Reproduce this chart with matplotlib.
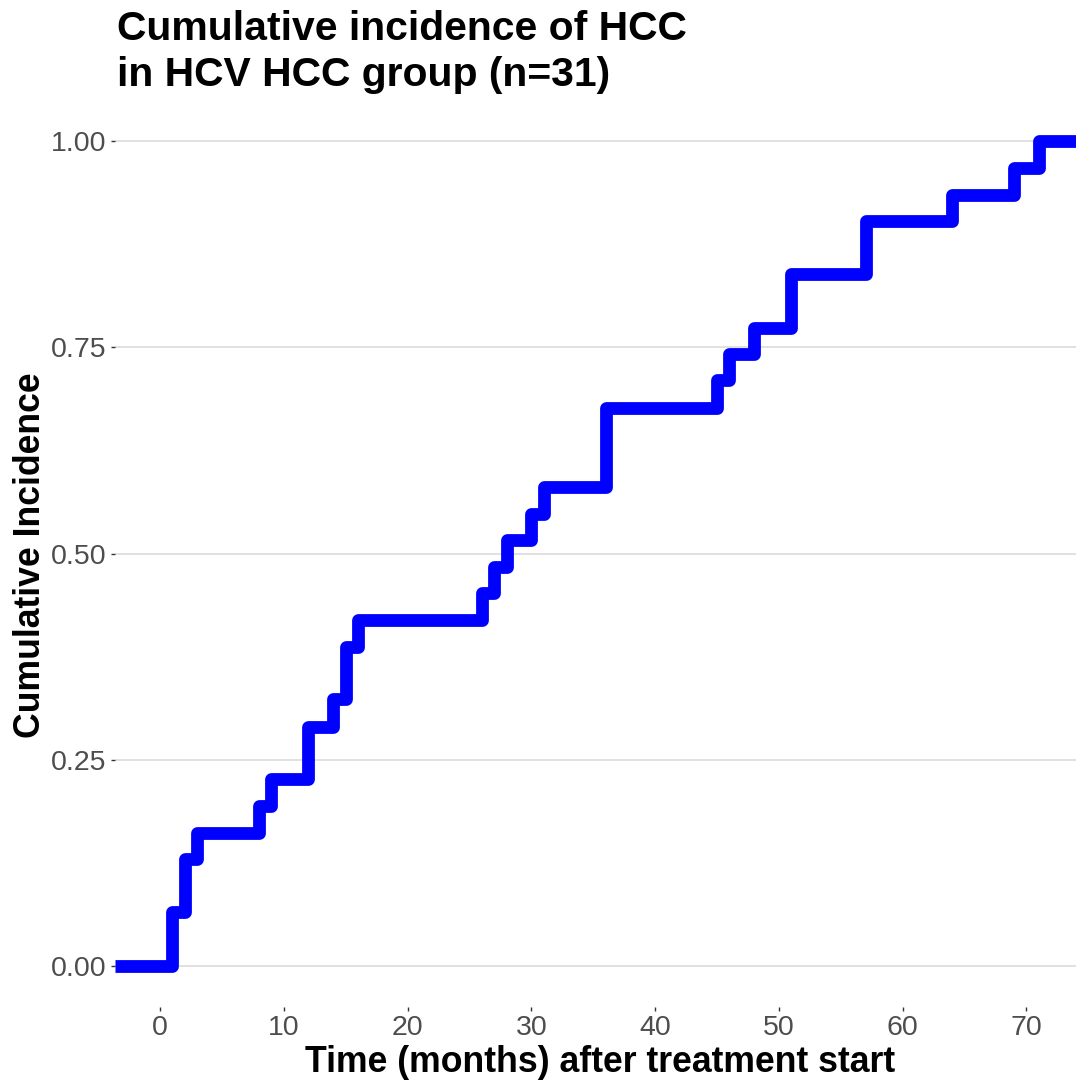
import matplotlib
matplotlib.use('Agg')
import matplotlib.pyplot as plt

# step points (months, cumulative incidence)
time = [-3.6, 1, 2, 3, 8, 9, 12, 14, 15, 16, 26, 27, 28, 30, 31, 36,
        45, 46, 48, 51, 57, 64, 69, 71, 74]
incidence = [0.000, 0.065, 0.129, 0.161, 0.194, 0.226, 0.290, 0.323,
             0.387, 0.419, 0.452, 0.484, 0.516, 0.548, 0.581, 0.677,
             0.710, 0.742, 0.774, 0.839, 0.903, 0.935, 0.968, 1.000, 1.000]

x_ticks = [0, 10, 20, 30, 40, 50, 60, 70]
y_ticks = [0.00, 0.25, 0.50, 0.75, 1.00]
y_labels = ['0.00', '0.25', '0.50', '0.75', '1.00']

title_lines = ['Cumulative incidence of HCC', 'in HCV HCC group (n=31)']

plt.rcParams['font.family'] = ['Liberation Sans', 'DejaVu Sans']

W, H = 1076, 1084
fig = plt.figure(figsize=(W / 100, H / 100), dpi=100)
ax = fig.add_axes([115 / W, 1 - 1007 / H, (1076 - 115) / W, (1007 - 100) / H])

ax.step(time, incidence, where='post', color='#0000FF', lw=9.2,
        solid_joinstyle='round', solid_capstyle='butt', zorder=3)

ax.set_xlim(-3.63, 74.0)
ax.set_ylim(-0.05, 1.05)
ax.set_xticks(x_ticks)
ax.set_yticks(y_ticks)
ax.set_yticklabels(y_labels)
ax.yaxis.grid(True, color='#DEDEDE', lw=1.3)
ax.xaxis.grid(False)
ax.set_axisbelow(True)
for s in ax.spines.values():
    s.set_visible(False)
ax.tick_params(axis='both', length=3, width=1, color='#333333',
               labelsize=20.5, labelcolor='#4D4D4D', pad=3)

# title as two lines, placed by baseline
fig.text(117 / W, 1 - 40 / H, title_lines[0],
         fontsize=29.4, fontweight='bold', ha='left', va='baseline')
fig.text(117 / W, 1 - 86 / H, title_lines[1],
         fontsize=29.4, fontweight='bold', ha='left', va='baseline')
fig.text(600 / W, 1 - 1072 / H, 'Time (months) after treatment start',
         fontsize=25.7, fontweight='bold', ha='center', va='baseline')
fig.text(13 / W, 1 - 555 / H, 'Cumulative Incidence', rotation=90,
         fontsize=25.7, fontweight='bold', ha='left', va='center')

fig.savefig('out.png', dpi=100)
